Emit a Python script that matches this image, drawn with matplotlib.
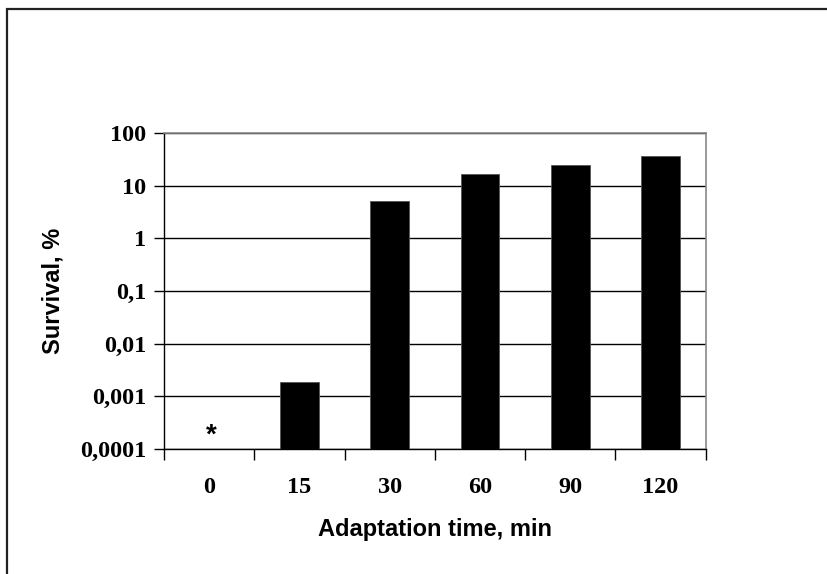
import matplotlib
matplotlib.use('Agg')
import matplotlib.pyplot as plt
from matplotlib.patches import Rectangle
import numpy as np

# adaptation time (min) and survival (%)
times = ['0', '15', '30', '60', '90', '120']
survival = [np.nan, 0.0019, 5.1, 17, 25, 37]   # 0 min: none survived (*)
ytick_vals = [0.0001, 0.001, 0.01, 0.1, 1, 10, 100]
ytick_labels = ['0,0001', '0,001', '0,01', '0,1', '1', '10', '100']

serif = {'family': 'Liberation Serif', 'weight': 'bold', 'size': 17.5}
sans = {'family': 'Liberation Sans', 'weight': 'bold', 'size': 17}

fig = plt.figure(figsize=(8.27, 5.74), dpi=100)
ax = fig.add_axes([164 / 827, 1 - 449 / 574, (705.6 - 164) / 827, (449 - 133) / 574])

# outer chart frame, cut off at right and bottom like the original
fig.patches.append(Rectangle((7 / 827, -0.1), 1.2, 1 - 9 / 574 + 0.1,
                             transform=fig.transFigure, fill=False,
                             edgecolor='#222222', linewidth=1.6))

x = np.arange(len(times))
vals = np.array(survival, dtype=float)
mask = ~np.isnan(vals)
ax.set_yscale('log')
ax.bar(x[mask], vals[mask], width=0.43, color='black', edgecolor='#555555',
       linewidth=0.6, zorder=3)

# marker for the 0 min group
ax.annotate('*', xy=(x[0], ytick_vals[0]), xytext=(1.5, 4.5),
            textcoords='offset points', ha='center', va='baseline',
            zorder=4, family='Liberation Sans', weight='bold', size=20)

ax.set_ylim(ytick_vals[0], ytick_vals[-1])
ax.set_xlim(-0.5, len(times) - 0.5)
ax.yaxis.set_major_locator(matplotlib.ticker.FixedLocator(ytick_vals))
ax.yaxis.set_minor_locator(matplotlib.ticker.NullLocator())
ax.set_yticklabels(ytick_labels, fontdict=serif)
ax.grid(axis='y', color='black', linewidth=1.0, zorder=1)

# categories are labelled at centres, ticks sit between them
ax.set_xticks(x)
ax.set_xticklabels(times, fontdict=serif)
ax.set_xticks(np.arange(len(times) + 1) - 0.5, minor=True)
ax.tick_params(axis='x', which='major', length=0, pad=20.5)
ax.tick_params(axis='x', which='minor', length=8, width=1, direction='out')
ax.tick_params(axis='y', length=7, width=1, direction='out', pad=6)

for side in ['top', 'right']:
    ax.spines[side].set_color('#888888')
    ax.spines[side].set_linewidth(1.2)
for side in ['left', 'bottom']:
    ax.spines[side].set_color('black')
    ax.spines[side].set_linewidth(1.0)

ax.set_xlabel('Adaptation time, min', fontdict=sans, labelpad=14)
ax.set_ylabel('Survival, %', fontdict=sans, labelpad=11)

fig.savefig('out.png', dpi=100)
plt.close(fig)
